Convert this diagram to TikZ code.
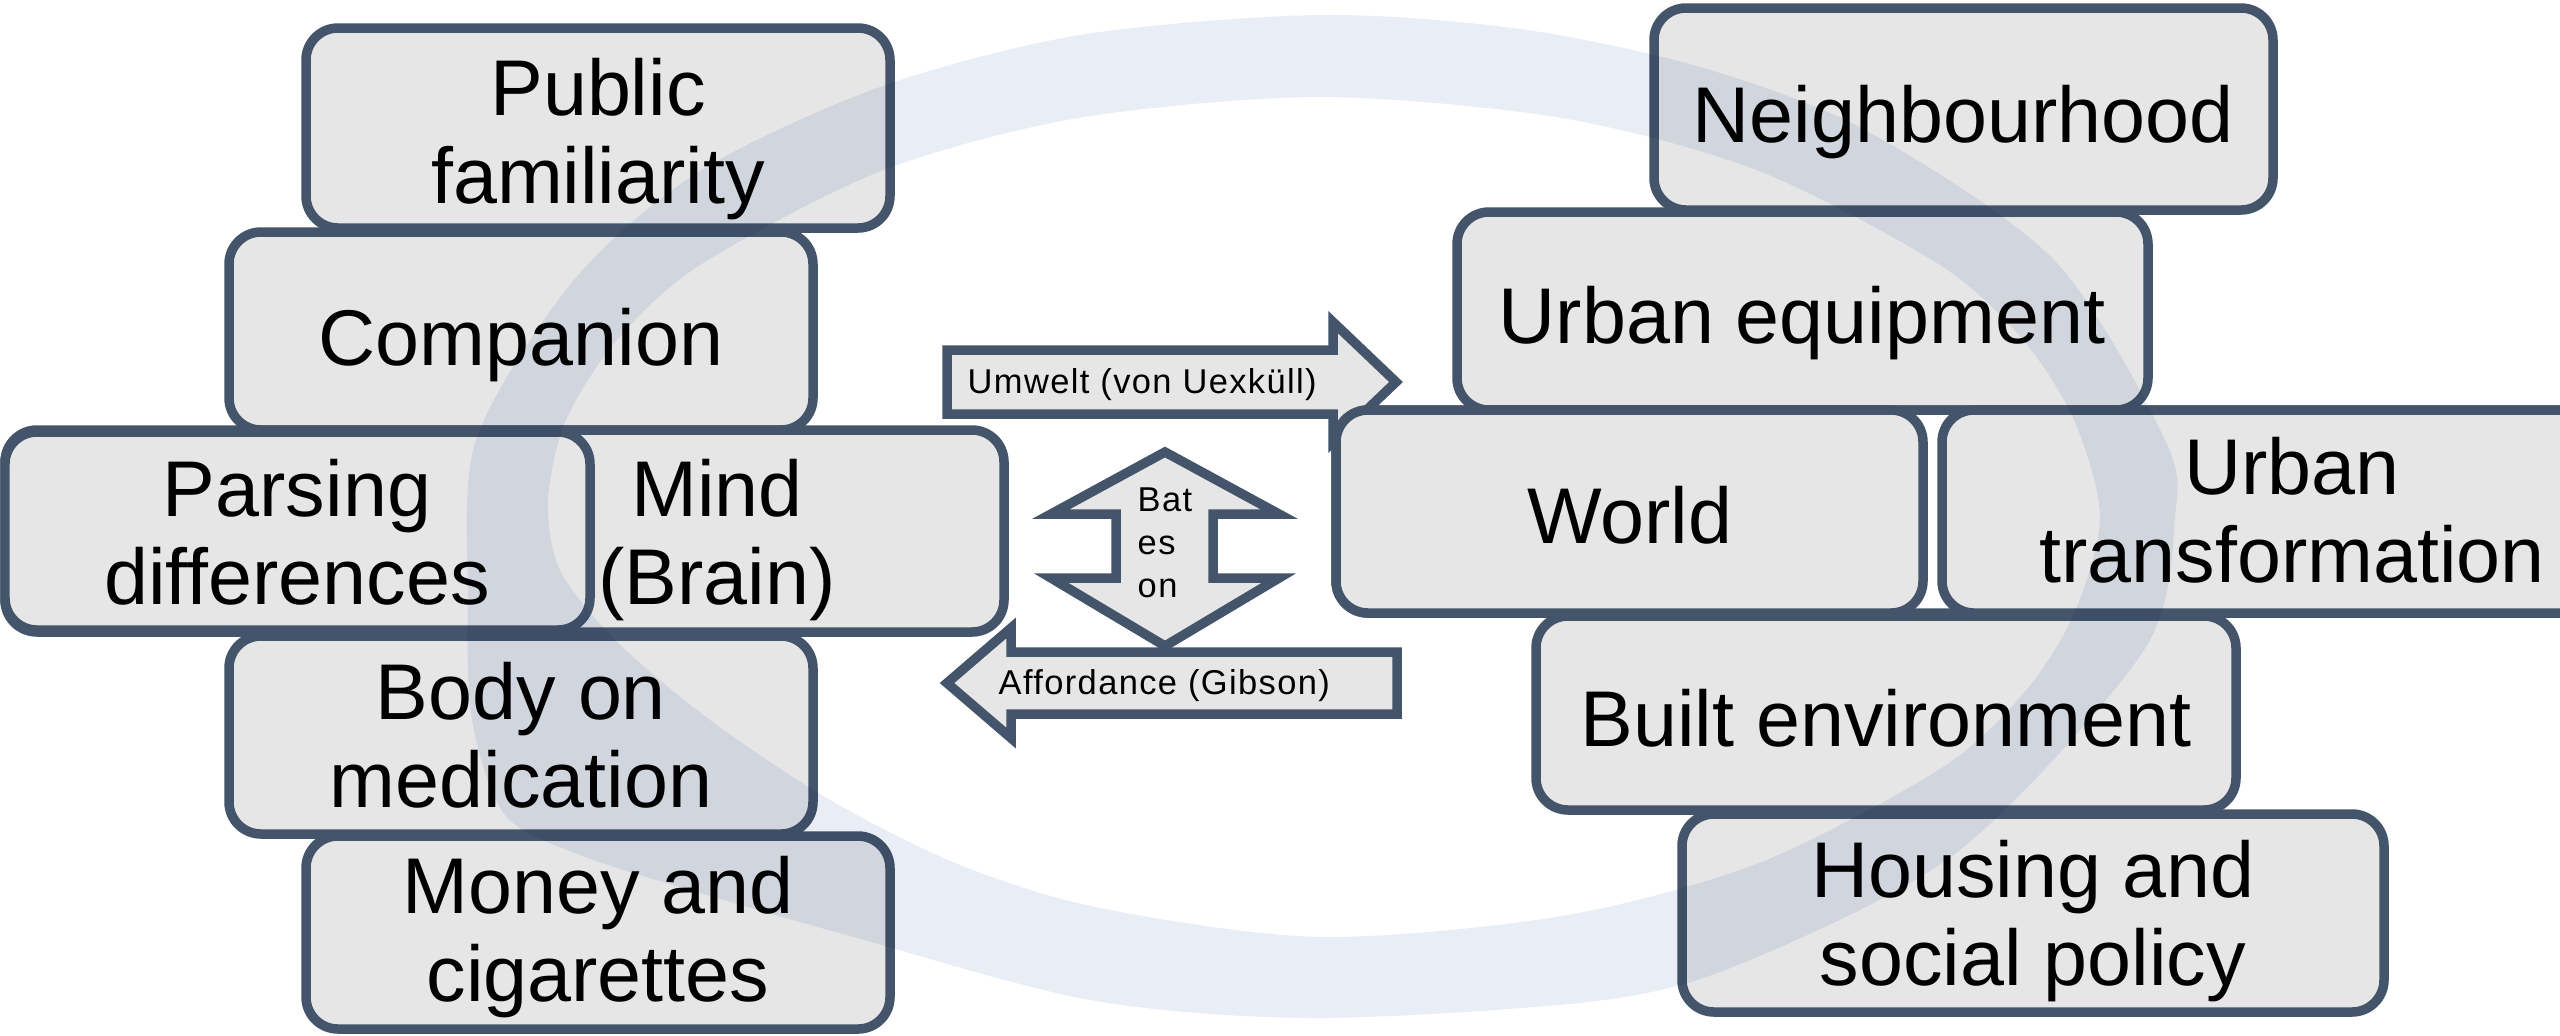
\documentclass[tikz,border=0pt]{standalone}
\usepackage{fontspec}
\setmainfont{Liberation Sans}
\newfontfamily\smallfamily[LetterSpace=4]{Liberation Sans}
\usetikzlibrary{calc}
\definecolor{boxfill}{RGB}{230,230,230}
\definecolor{boxline}{RGB}{68,84,106}
\definecolor{ringcol}{RGB}{232,237,246}
\newcommand{\bigfnt}{\fontsize{22.48pt}{25.03pt}\selectfont}
\newcommand{\smallfnt}{\smallfamily\fontsize{9.8pt}{12.23pt}\selectfont}
\newcommand{\boxnode}[6]{%
  \node[#1, inner sep=0pt, outer sep=0pt, minimum width={(#5-#3)*0.01cm}, minimum height={(#6-#4)*0.01cm}] (#2) at ({(#3+#5)/2},{(#4+#6)/2}) {};}
\tikzset{
  box/.style={draw=boxline, fill=boxfill, line width=2.7pt, rounded corners=0.32cm},
  holder/.style={draw=boxline, fill=white, line width=2.7pt, rounded corners=0.32cm},
  blockarrow/.style={draw=boxline, fill=boxfill, line width=2.7pt, line join=miter},
  bigtxt/.style={font=\bigfnt, align=center, inner sep=0pt, execute at begin node=\strut, execute at end node=\strut},
  smalltxt/.style={font=\smallfnt, inner sep=0pt},
}
\begin{document}
\begin{tikzpicture}[x=0.01cm, y=-0.01cm]
\useasboundingbox (0,0) rectangle (2560,1035);
\fill[white] (0,0) rectangle (2560,1035);
\clip (0,0) rectangle (2560,1035);

% ---- left column ----
\boxnode{box}{pf}{306}{28}{890}{228}
\boxnode{box}{comp}{229}{232}{813}{430}
\boxnode{box}{mind}{5}{430}{1004}{632}
\boxnode{box}{pars}{5}{432}{590}{630}
\boxnode{box}{body}{229}{636}{813}{834}
\boxnode{box}{money}{306}{836}{890}{1029}

\node[bigtxt] (pf-t) at (598,144) {Public\\familiarity};
\node[bigtxt] (comp-t) at (521,348) {Companion};
\node[bigtxt] (pars-t) at (297,545) {Parsing\\differences};
\node[bigtxt] (mind-t) at (717,545) {Mind\\(Brain)};
\node[bigtxt] (body-t) at (521,748) {Body on\\medication};
\node[bigtxt] (money-t) at (598,942) {Money and\\cigarettes};

% ---- block arrows ----
\coordinate (uTail) at (947,382);
\coordinate (uTip) at (1396,382);
\draw[blockarrow] (uTail) ++(0,-32) -- (1333,350) -- (1333,322) -- (uTip)
  -- (1333,442) -- (1333,414) -- ($(uTail)+(0,32)$) -- cycle;
\node[smalltxt, anchor=base west] (umwelt) at (967,393) {Umwelt (von Uexküll)};

\coordinate (bTop) at (1165,452);
\coordinate (bBot) at (1165,646);
\draw[blockarrow] (bTop) -- (1279,514) -- (1213,514) -- (1213,578) -- (1279,578)
  -- (bBot) -- (1051,578) -- (1116,578) -- (1116,514) -- (1051,514) -- cycle;
\node[smalltxt, align=left, anchor=west, execute at begin node=\strut, execute at end node=\strut] (bateson) at (1137,549.4) {Bat\\es\\on};

\coordinate (aTail) at (1397,683);
\coordinate (aTip) at (947,683);
\draw[blockarrow] (aTail) ++(0,-31) -- (1011,652) -- (1011,628) -- (aTip)
  -- (1011,738) -- (1011,714) -- ($(aTail)+(0,31)$) -- cycle;
\node[smalltxt, anchor=base west] (afford) at (998,694) {Affordance (Gibson)};

% ---- right column ----
\boxnode{box}{nb}{1654}{8}{2273}{210}
\boxnode{box}{ue}{1457}{212}{2148}{410}
\boxnode{holder}{wrow}{1336}{410}{2680}{613}
\boxnode{box}{world}{1336}{410}{1923}{613}
\boxnode{box}{ut}{1942}{410}{2680}{613}
\boxnode{box}{built}{1536}{616}{2236}{810}
\boxnode{box}{house}{1682}{814}{2384}{1012}

\node[bigtxt] (nb-t) at (1963,125) {Neighbourhood};
\node[bigtxt] (ue-t) at (1802,326) {Urban equipment};
\node[bigtxt] (world-t) at (1630,526) {World};
\node[bigtxt] (ut-t) at (2292,523) {Urban\\transformation};
\node[bigtxt] (built-t) at (1886,729) {Built environment};
\node[bigtxt] (house-t) at (2033,926) {Housing and\\social policy};

% ---- background ring (multiplied over everything) ----
\begin{scope}[blend mode=multiply]
\fill[ringcol, even odd rule]
  plot[smooth cycle, tension=0.5] coordinates {
    (468,600) (476,440) (574,280) (700,171) (880,87) (1080,35) (1320,15)
    (1520,29) (1700,67) (1865,130) (2054,260) (2165,440) (2175,517)
    (2144,650) (1960,850) (1750,960) (1604,1000) (1317,1018) (1090,1000)
    (850,936) (690,890) (580,855) (505,815) (472,720)}
  plot[smooth cycle, tension=0.5] coordinates {
    (548,500) (566,420) (617,340) (700,265) (881,171) (1078,118) (1320,97)
    (1562,118) (1759,171) (1940,265) (2023,340) (2074,420) (2100,517)
    (2074,614) (2023,694) (1940,769) (1759,863) (1562,916) (1320,937)
    (1100,908) (960,865) (830,800) (710,720) (615,640) (560,570)};
\end{scope}
\end{tikzpicture}
\end{document}
